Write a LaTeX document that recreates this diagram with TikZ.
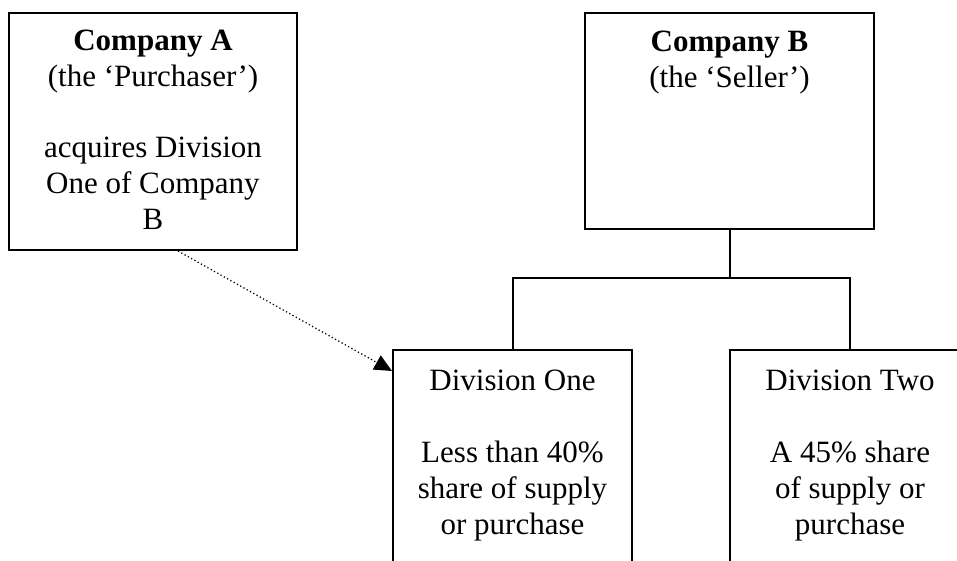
\documentclass[tikz,border=0pt]{standalone}
\usepackage{fontspec}
\setmainfont{Liberation Serif}
\usetikzlibrary{positioning,calc,arrows.meta}
\tikzset{
  orgbox/.style={draw,line width=0.8pt,inner sep=0pt},
  orgtext/.style={align=center,inner sep=0pt,font=\fontsize{12.4}{14.4}\selectfont},
}
\begin{document}
\begin{tikzpicture}[x=0.4pt,y=-0.4pt]
  \useasboundingbox (0,0) rectangle (957,560);
  \clip (0,0) rectangle (957,560);
  \node[orgbox,minimum width=115.2pt,minimum height=94.8pt] (compA) at (153,131.5) {};
  \node[orgbox,minimum width=115.6pt,minimum height=86.4pt] (compB) at (729.5,121) {};
  \node[orgbox,minimum width=95.6pt,minimum height=120pt] (divOne) at (512.5,500) {};
  \node[orgbox,minimum width=96pt,minimum height=120pt] (divTwo) at (850,500) {};
  \node[orgtext,below=7pt of compA.north] (compAtext) {\textbf{Company A}\\(the `Purchaser')\\[14pt]acquires Division\\One of Company\\B};
  \node[orgtext,below=7.2pt of compB.north] (compBtext) {\textbf{Company B}\\(the `Seller')};
  \node[orgtext,below=8pt of divOne.north] (divOnetext) {Division One\\[14.4pt]Less than 40\%\\share of supply\\or purchase};
  \node[orgtext,below=8pt of divTwo.north] (divTwotext) {Division Two\\[14.4pt]A 45\% share\\of supply or\\purchase};
  \draw[line width=0.8pt] (compB.south) -- ++(0,48) -| (divOne.north);
  \draw[line width=0.8pt] (compB.south) -- ++(0,48) -| (divTwo.north);
  \draw[densely dotted,line width=0.5pt,-{Triangle[length=7pt,width=6.4pt]}] ($(compA.south)+(25,0)$) -- ($(divOne.north west)+(0,22)$);
\end{tikzpicture}
\end{document}
